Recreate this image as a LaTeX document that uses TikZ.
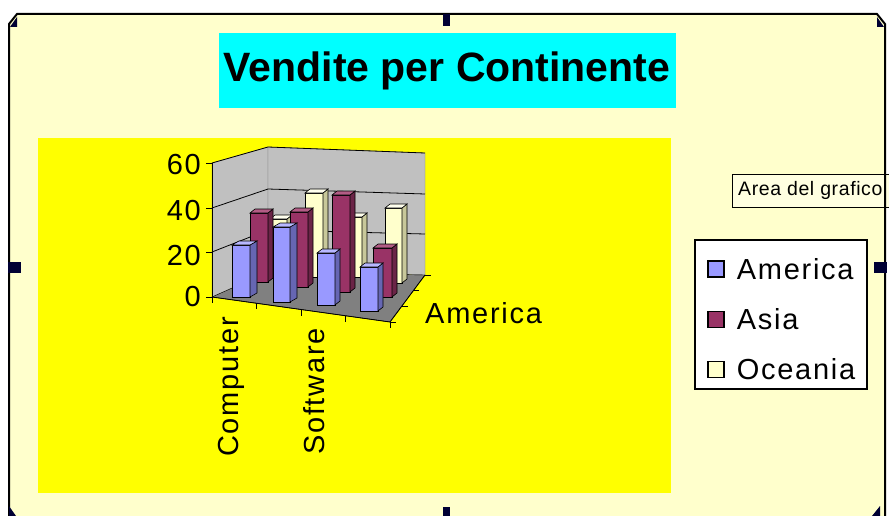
\documentclass[tikz,border=0pt]{standalone}
\usepackage{fontspec}
\setmainfont{Liberation Sans}
\usepackage{tikz}
\usetikzlibrary{positioning}
\definecolor{chartbg}{HTML}{FFFFCC}
\definecolor{plotbg}{HTML}{FFFF00}
\definecolor{titlebg}{HTML}{00FFFF}
\definecolor{tipbg}{HTML}{FFFFE1}
\definecolor{navy}{HTML}{000033}
\definecolor{wallgray}{HTML}{C0C0C0}
\definecolor{floorgray}{HTML}{808080}
\definecolor{amer}{HTML}{9999FF}
\definecolor{amerside}{HTML}{6666B3}
\definecolor{amertop}{HTML}{B8B8FF}
\definecolor{asia}{HTML}{993366}
\definecolor{asiaside}{HTML}{6B2447}
\definecolor{asiatop}{HTML}{B35C85}
\definecolor{ocea}{HTML}{FFFFCC}
\definecolor{oceaside}{HTML}{C8C89A}
\definecolor{oceatop}{HTML}{FFFFEE}
\tikzstyle{handle} = [fill=navy]
\tikzstyle{bigtext} = [font=\fontsize{29}{34}\selectfont\addfontfeature{LetterSpace=6}, inner sep=0pt]
\tikzstyle{swatch} = [draw=black, line width=1.2pt, minimum size=16pt, inner sep=0pt]
\tikzstyle{gridline} = [black, line width=0.8pt]
\tikzstyle{barline} = [draw=black, line width=0.6pt]
\newcommand{\colbar}[6]{%
  \draw[barline, fill=#6] (#1,#5) -- (#1,#4) -- (#2,#4) -- (#2,#5) -- cycle;
  \draw[barline, fill=#6side] (#2,#5) -- (#2,#4) -- (#3,#4-4) -- (#3,#5-4) -- cycle;
  \draw[barline, fill=#6top] (#1,#4) -- (#1+#3-#2,#4-4) -- (#3,#4-4) -- (#2,#4) -- cycle;
}

\begin{document}
\begin{tikzpicture}[x=1pt,y=-1pt]
        \useasboundingbox (0,0) rectangle (889,516);
        \clip (0,0) rectangle (889,516);
        \fill[chartbg] (9,24) -- (17,14) -- (877,14) -- (885,24) -- (885,530) -- (9,530) -- cycle;
        \fill[titlebg] (219,33) rectangle (676,108);
        \node[font=\fontsize{41}{46}\selectfont\bfseries, inner sep=0pt] (title) at (447,71) {Vendite per Continente};
        \fill[plotbg] (38,138) rectangle (671,493);
        \draw[fill=wallgray, draw=floorgray] (212,163) -- (268,147) -- (268,272) -- (212,297) -- cycle;
        \draw[fill=wallgray, draw=floorgray] (268,147) -- (425,153) -- (425,275) -- (268,272) -- cycle;
        \draw[fill=floorgray] (212,297) -- (268,272) -- (425,275) -- (390,322) -- cycle;
        \draw[gridline] (212,252) -- (268,230) -- (425,234);
        \draw[gridline] (212,208) -- (268,189) -- (425,194);
        \draw[gridline] (212,163) -- (268,147) -- (425,153);
        \colbar{270}{287}{292}{219}{276}{ocea}
        \colbar{305}{323}{328}{193}{277}{ocea}
        \colbar{345}{362}{367}{217}{277}{ocea}
        \colbar{385}{402}{407}{208}{283}{ocea}
        \colbar{250}{268}{273}{213}{282}{asia}
        \colbar{290}{308}{313}{212}{287}{asia}
        \colbar{332}{350}{355}{195}{292}{asia}
        \colbar{373}{392}{397}{248}{297}{asia}
        \colbar{232}{250}{257}{245}{297}{amer}
        \colbar{273}{290}{297}{227}{302}{amer}
        \colbar{317}{335}{340}{253}{305}{amer}
        \colbar{360}{378}{383}{267}{311}{amer}
        \draw[thick] (212,163) -- (212,297);
        \draw[thick] (206,163) -- (212,163);
        \draw[thick] (206,208) -- (212,208);
        \draw[thick] (206,252) -- (212,252);
        \draw[thick] (206,297) -- (212,297);
        \draw[thick] (212,297) -- (390,322);
        \draw[thick] (212,297) -- (212,303);
        \draw[thick] (256.5,303.25) -- (256.5,309.25);
        \draw[thick] (301,309.5) -- (301,315.5);
        \draw[thick] (345.5,315.75) -- (345.5,321.75);
        \draw[thick] (390,322) -- (390,328);
        \draw[thick] (390,322) -- (425,275);
        \draw[thick] (390,322) -- (396,322);
        \draw[thick] (401.7,306.3) -- (407.7,306.3);
        \draw[thick] (413.3,290.7) -- (419.3,290.7);
        \draw[thick] (425,275) -- (431,275);
        \node[bigtext, anchor=east] (lab60) at (201,165) {60};
        \node[bigtext, anchor=east] (lab40) at (201,211) {40};
        \node[bigtext, anchor=east] (lab20) at (201,256) {20};
        \node[bigtext, anchor=east] (lab0) at (201,297) {0};
        \node[bigtext, rotate=90, anchor=east] (computer) at (231,317) {Computer};
        \node[bigtext, rotate=90, anchor=east] (software) at (314,328) {Software};
        \node[bigtext, anchor=west] (depth) at (425,313) {America};
        \draw[fill=white, line width=1.5pt] (695,240) rectangle (867,389);
        \node[swatch, fill=amer] (swamer) at (716,269) {};
        \node[swatch, fill=asia, below=33pt of swamer] (swasia) {};
        \node[swatch, fill=ocea, below=33pt of swasia] (swocea) {};
        \node[bigtext, right=12pt of swamer] (legamer) {America};
        \node[bigtext, right=12pt of swasia] (legasia) {Asia};
        \node[bigtext, right=12pt of swocea] (legocea) {Oceania};
        \draw[fill=tipbg] (732,174) rectangle (895,207);
        \node[font=\fontsize{19.5}{24}\selectfont\addfontfeature{LetterSpace=3}, inner sep=0pt, anchor=west] (tip) at (738,190.5) {Area del grafico};
        \draw[line width=2pt] (9,530) -- (9,24) -- (17,14) -- (877,14) -- (885,24) -- (885,530);
        \fill[handle] (443,14) rectangle (450,26);
        \fill[handle] (443,507) rectangle (450,516);
        \fill[handle] (8,262) rectangle (21,273);
        \fill[handle] (874,262) rectangle (887,273);
        \fill[handle] (10,27) -- (17,17) -- (17,27) -- cycle;
        \fill[handle] (884,27) -- (877,17) -- (877,27) -- cycle;
        \fill[handle] (9,506) -- (16,516) -- (9,516) -- cycle;
        \fill[handle] (880,506) -- (872,516) -- (880,516) -- cycle;
    \end{tikzpicture}
\end{document}
